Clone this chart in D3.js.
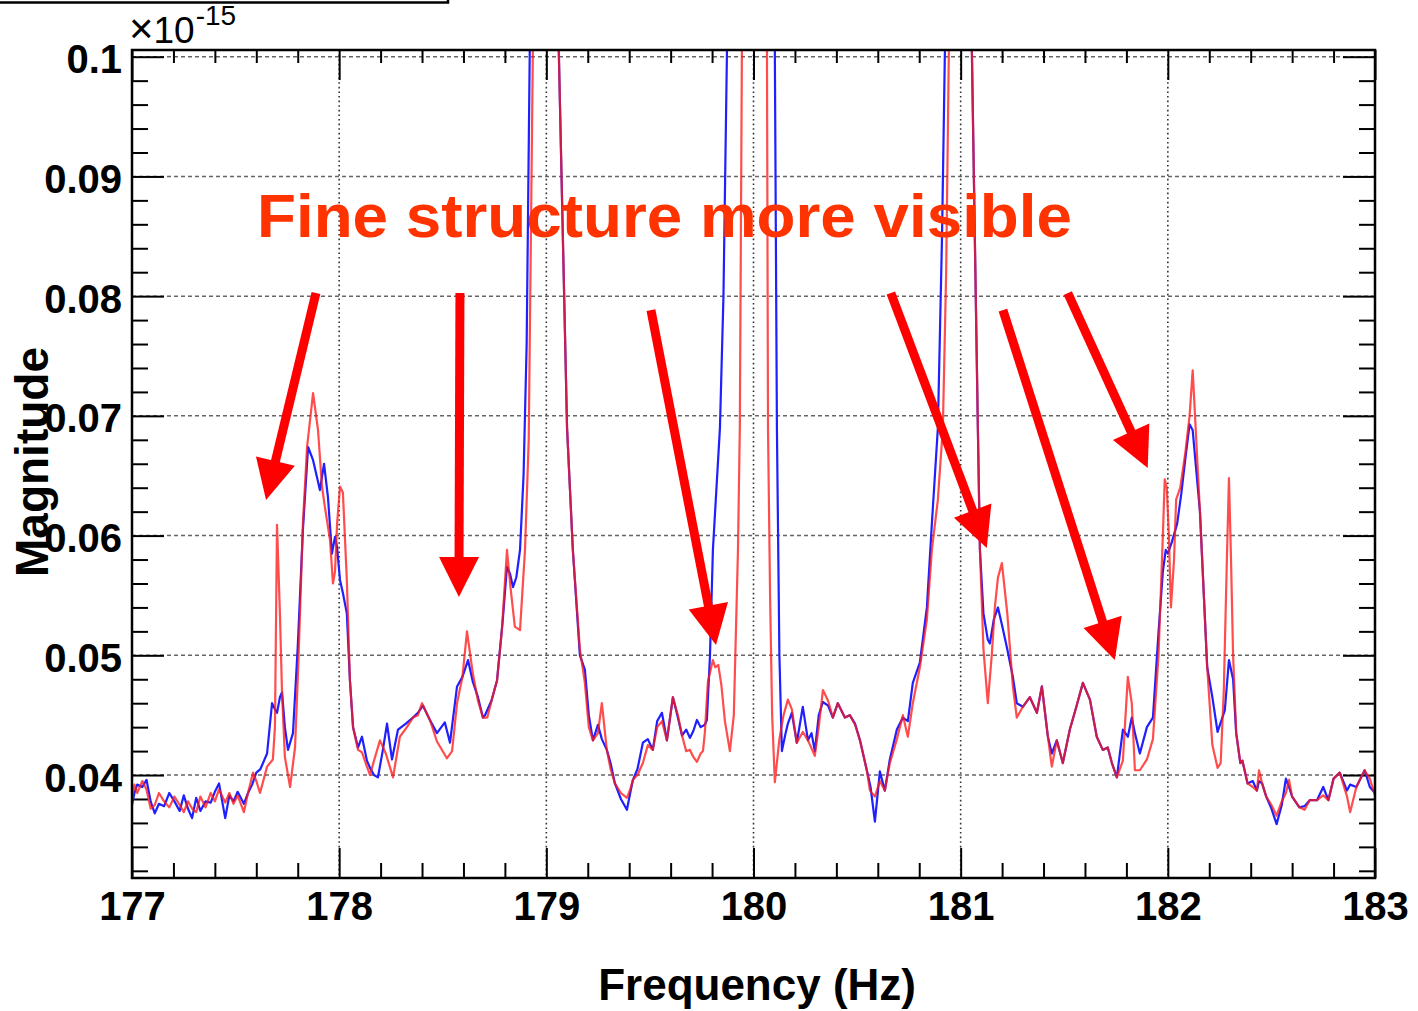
<!DOCTYPE html>
<html><head><meta charset="utf-8">
<script src="https://cdn.jsdelivr.net/npm/d3@7"></script>
<style>
html,body{margin:0;padding:0;background:#fff;}
svg{display:block;}
</style></head><body>
<svg id="chart" width="1418" height="1011"></svg>
<script>
// ---------------- data ----------------
const xTicks = [177, 178, 179, 180, 181, 182, 183];
const xTickLabels = ["177", "178", "179", "180", "181", "182", "183"];
const yTicks = [0.04, 0.05, 0.06, 0.07, 0.08, 0.09, 0.1];
const yTickLabels = ["0.04", "0.05", "0.06", "0.07", "0.08", "0.09", "0.1"];
const xTitle = "Frequency (Hz)";
const yTitle = "Magnitude";
const exponentTimes = "\u00d7";
const exponentBase = "10";
const exponentPower = "-15";
const annotationText = "Fine structure more visible";

// [frequency (Hz), magnitude (x1e-15)]
const blueSeries = [
[177.000,.0375],[177.012,.0385],[177.025,.0392],[177.05,.0390],[177.07,.0396],[177.09,.0378],
[177.11,.0368],[177.13,.0376],[177.155,.0374],[177.18,.0385],[177.205,.0378],[177.23,.0370],
[177.25,.0383],[177.27,.0372],[177.29,.0364],[177.31,.0381],[177.33,.0370],[177.355,.0378],
[177.38,.0377],[177.40,.0386],[177.42,.0393],[177.45,.0364],[177.47,.0383],[177.49,.0378],
[177.51,.0386],[177.54,.0376],[177.56,.0385],[177.58,.0392],[177.60,.0402],[177.62,.0405],
[177.652,.0418],[177.676,.0460],[177.69,.0455],[177.70,.0452],[177.714,.0465],[177.724,.0469],
[177.738,.0440],[177.753,.0421],[177.777,.0435],[177.80,.0507],[177.825,.0605],[177.85,.0674],
[177.874,.0663],[177.898,.0645],[177.907,.0638],[177.927,.0660],[177.946,.0632],[177.965,.0585],
[177.98,.0599],[177.99,.0590],[178.004,.0563],[178.018,.0552],[178.037,.0535],[178.052,.0479],
[178.067,.0440],[178.091,.0423],[178.11,.0432],[178.134,.0412],[178.149,.0406],[178.168,.0400],
[178.187,.0398],[178.21,.0420],[178.231,.0443],[178.255,.0413],[178.284,.0438],[178.322,.0443],
[178.356,.0448],[178.38,.0452],[178.404,.0458],[178.438,.0446],[178.472,.0435],[178.51,.0444],
[178.535,.0427],[178.569,.0474],[178.595,.0482],[178.622,.0496],[178.645,.0478],[178.67,.0465],
[178.694,.0448],[178.704,.0450],[178.735,.0462],[178.762,.0479],[178.79,.0530],[178.81,.0574],
[178.825,.0568],[178.839,.0557],[178.855,.0565],[178.873,.0588],[178.89,.0650],[178.905,.0760],
[178.92,.1006],[178.94,.1500],[179.00,.3000],[179.04,.1500],[179.06,.1006],[179.10,.0690],
[179.128,.0588],[179.162,.0500],[179.186,.0488],[179.205,.0450],[179.225,.0429],[179.249,.0442],
[179.268,.0430],[179.292,.0421],[179.31,.0410],[179.331,.0393],[179.36,.0380],[179.389,.0371],
[179.405,.0385],[179.418,.0396],[179.44,.0405],[179.466,.0427],[179.49,.0430],[179.514,.0421],
[179.535,.0445],[179.558,.0452],[179.582,.0429],[179.611,.0465],[179.635,.0448],[179.655,.0433],
[179.675,.0438],[179.693,.0431],[179.71,.0437],[179.727,.0446],[179.745,.0440],[179.765,.0442],
[179.775,.0446],[179.79,.0500],[179.804,.0588],[179.838,.0690],[179.855,.0800],[179.872,.1006],
[179.89,.1500],[180.00,.3000],[180.09,.1500],[180.103,.1006],[180.113,.0690],[180.125,.0500],
[180.137,.0420],[180.155,.0435],[180.166,.0443],[180.185,.0452],[180.209,.0427],[180.238,.0457],
[180.263,.0429],[180.28,.0435],[180.296,.0420],[180.315,.0450],[180.335,.0461],[180.36,.0458],
[180.383,.0448],[180.407,.0460],[180.441,.0448],[180.465,.0450],[180.49,.0443],[180.514,.0429],
[180.547,.0404],[180.565,.0390],[180.586,.0361],[180.61,.0403],[180.634,.0387],[180.658,.0413],
[180.692,.0438],[180.721,.0448],[180.745,.0445],[180.769,.0477],[180.803,.0494],[180.837,.0540],
[180.861,.0610],[180.89,.0690],[180.91,.0850],[180.924,.1006],[180.94,.1500],[181.00,.3000],
[181.04,.1500],[181.054,.1006],[181.083,.0690],[181.093,.0588],[181.11,.0535],[181.131,.0513],
[181.141,.0510],[181.16,.0530],[181.18,.0540],[181.20,.0525],[181.225,.0505],[181.252,.0482],
[181.271,.0460],[181.30,.0457],[181.334,.0465],[181.368,.0452],[181.392,.0474],[181.421,.0432],
[181.44,.0418],[181.464,.0429],[181.493,.0410],[181.527,.0438],[181.555,.0455],[181.59,.0477],
[181.624,.0463],[181.657,.0432],[181.686,.0421],[181.71,.0423],[181.73,.0410],[181.754,.0398],
[181.783,.0438],[181.807,.0432],[181.826,.0448],[181.841,.0435],[181.865,.0418],[181.899,.0440],
[181.928,.0448],[181.955,.0519],[181.976,.0570],[181.99,.0588],[182.00,.0585],[182.02,.0595],
[182.045,.0610],[182.065,.0635],[182.085,.0665],[182.105,.0693],[182.12,.0688],[182.155,.0620],
[182.19,.0490],[182.215,.0465],[182.24,.0436],[182.275,.0454],[182.295,.0496],[182.315,.0480],
[182.33,.0435],[182.35,.0410],[182.36,.0412],[182.385,.0393],[182.41,.0395],[182.43,.0387],
[182.44,.0395],[182.455,.0393],[182.475,.0382],[182.50,.0372],[182.525,.0359],[182.55,.0375],
[182.57,.0397],[182.585,.0390],[182.60,.0382],[182.635,.0373],[182.66,.0374],[182.685,.0379],
[182.72,.0379],[182.75,.0390],[182.775,.0379],[182.80,.0397],[182.83,.0402],[182.865,.0387],
[182.88,.0392],[182.91,.0390],[182.95,.0404],[182.975,.0390],[183.00,.0385]
];

const redSeries = [
[177.000,.0380],[177.012,.0392],[177.025,.0385],[177.05,.0395],[177.07,.0388],[177.09,.0372],
[177.11,.0375],[177.13,.0385],[177.155,.0378],[177.18,.0373],[177.205,.0382],[177.23,.0375],
[177.25,.0369],[177.27,.0378],[177.29,.0372],[177.31,.0369],[177.33,.0382],[177.355,.0373],
[177.38,.0385],[177.40,.0378],[177.42,.0388],[177.45,.0377],[177.47,.0385],[177.49,.0376],
[177.51,.0383],[177.54,.0369],[177.56,.0385],[177.584,.0402],[177.60,.0395],[177.618,.0385],
[177.652,.0407],[177.68,.0413],[177.69,.0440],[177.70,.0609],[177.714,.0535],[177.724,.0470],
[177.738,.0415],[177.763,.0390],[177.787,.0423],[177.80,.0480],[177.811,.0535],[177.825,.0610],
[177.845,.0674],[177.874,.0719],[177.898,.0688],[177.917,.0641],[177.931,.0624],[177.956,.0596],
[177.97,.0560],[177.98,.0570],[177.99,.0610],[178.004,.0641],[178.018,.0636],[178.037,.0563],
[178.052,.0479],[178.067,.0440],[178.091,.0421],[178.11,.0419],[178.134,.0407],[178.149,.0400],
[178.168,.0412],[178.197,.0429],[178.225,.0418],[178.26,.0398],[178.293,.0432],[178.327,.0440],
[178.356,.0448],[178.38,.0450],[178.40,.0460],[178.438,.0446],[178.472,.0428],[178.52,.0414],
[178.545,.0420],[178.569,.0460],[178.595,.0482],[178.617,.0520],[178.645,.0485],[178.67,.0462],
[178.694,.0448],[178.715,.0448],[178.74,.0465],[178.762,.0479],[178.785,.0520],[178.81,.0588],
[178.825,.0560],[178.848,.0524],[178.873,.0521],[178.897,.0588],[178.915,.0680],[178.935,.1006],
[178.96,.1500],[179.00,.3000],[179.04,.1500],[179.06,.1006],[179.10,.0690],[179.128,.0588],
[179.162,.0505],[179.186,.0477],[179.205,.0440],[179.225,.0429],[179.249,.0435],[179.268,.0460],
[179.292,.0421],[179.31,.0405],[179.331,.0393],[179.36,.0385],[179.389,.0381],[179.405,.0388],
[179.418,.0396],[179.44,.0400],[179.466,.0410],[179.49,.0425],[179.514,.0421],[179.535,.0440],
[179.558,.0445],[179.582,.0429],[179.611,.0465],[179.635,.0450],[179.655,.0433],[179.675,.0420],
[179.693,.0421],[179.71,.0415],[179.727,.0411],[179.745,.0418],[179.756,.0420],[179.765,.0435],
[179.78,.0478],[179.804,.0496],[179.815,.0490],[179.83,.0492],[179.845,.0475],[179.862,.0445],
[179.886,.0420],[179.905,.0450],[179.925,.0588],[179.934,.0690],[179.944,.1006],[179.96,.1500],
[180.00,.3000],[180.05,.1500],[180.065,.1006],[180.07,.0690],[180.08,.0550],[180.09,.0450],
[180.103,.0394],[180.125,.0430],[180.145,.0450],[180.166,.0463],[180.185,.0455],[180.209,.0427],
[180.238,.0436],[180.263,.0429],[180.296,.0416],[180.315,.0440],[180.335,.0471],[180.36,.0462],
[180.383,.0448],[180.407,.0460],[180.441,.0448],[180.465,.0450],[180.49,.0442],[180.514,.0429],
[180.547,.0404],[180.562,.0387],[180.586,.0382],[180.61,.0395],[180.634,.0387],[180.658,.0410],
[180.692,.0430],[180.721,.0450],[180.745,.0432],[180.769,.0460],[180.803,.0490],[180.837,.0530],
[180.861,.0588],[180.89,.0630],[180.914,.0690],[180.93,.0820],[180.943,.1006],[180.96,.1500],
[181.00,.3000],[181.04,.1500],[181.054,.1006],[181.083,.0690],[181.093,.0588],[181.11,.0505],
[181.131,.0460],[181.15,.0500],[181.165,.0540],[181.18,.0565],[181.199,.0577],[181.225,.0535],
[181.252,.0474],[181.271,.0448],[181.30,.0457],[181.334,.0465],[181.368,.0452],[181.392,.0474],
[181.421,.0432],[181.44,.0407],[181.464,.0429],[181.493,.0410],[181.527,.0438],[181.555,.0455],
[181.59,.0477],[181.624,.0463],[181.657,.0432],[181.686,.0421],[181.71,.0423],[181.73,.0410],
[181.754,.0398],[181.783,.0412],[181.807,.0482],[181.826,.0460],[181.841,.0404],[181.865,.0404],
[181.899,.0413],[181.928,.0430],[181.955,.0500],[181.976,.0600],[181.985,.0647],[181.995,.0640],
[182.005,.0600],[182.015,.0540],[182.03,.0580],[182.04,.0630],[182.06,.0640],[182.085,.0670],
[182.105,.0700],[182.12,.0738],[182.155,.0620],[182.19,.0490],[182.215,.0425],[182.24,.0406],
[182.255,.0410],[182.27,.0470],[182.285,.0580],[182.295,.0648],[182.305,.0580],[182.315,.0500],
[182.33,.0435],[182.35,.0410],[182.36,.0412],[182.385,.0393],[182.41,.0390],[182.43,.0387],
[182.44,.0404],[182.455,.0393],[182.475,.0382],[182.50,.0375],[182.525,.0366],[182.55,.0378],
[182.57,.0385],[182.585,.0396],[182.60,.0382],[182.635,.0373],[182.66,.0371],[182.685,.0379],
[182.72,.0379],[182.75,.0383],[182.775,.0379],[182.80,.0397],[182.83,.0402],[182.865,.0382],
[182.88,.0369],[182.91,.0390],[182.95,.0404],[182.975,.0397],[183.00,.0383]
];

// annotation arrows: [startFreq, startMag, tipFreq, tipMag]
const arrows = [
[177.888, 0.08026, 177.647, 0.06297],
[178.583, 0.08026, 178.578, 0.05487],
[179.505, 0.07884, 179.819, 0.05086],
[180.663, 0.08026, 181.126, 0.05896],
[181.204, 0.07884, 181.744, 0.04961],
[181.517, 0.08026, 181.903, 0.06564]
];

// ---------------- drawing ----------------
const FONT = "'Liberation Sans', Arial, Helvetica, sans-serif";
const L = 132, R = 1375, T = 50, B = 878;
const svg = d3.select("#chart");
const x = d3.scaleLinear().domain([177, 183]).range([L, R]);
const y = d3.scaleLinear().domain([0.0314, 0.10056]).range([B, T]);

// legend box remnant at top-left
svg.append("rect").attr("x", -10).attr("y", -30).attr("width", 458).attr("height", 32.5)
  .attr("fill", "#fff").attr("stroke", "#000").attr("stroke-width", 2.5);

// grid
const grid = svg.append("g");
grid.selectAll("line.h").data(yTicks).join("line")
  .attr("x1", L).attr("x2", R).attr("y1", d => y(d)).attr("y2", d => y(d))
  .attr("stroke", "#666").attr("stroke-width", 1.5).attr("stroke-dasharray", "4,3");
grid.selectAll("line.v").data(xTicks.slice(1, -1)).join("line")
  .attr("x1", d => x(d)).attr("x2", d => x(d)).attr("y1", T).attr("y2", B)
  .attr("stroke", "#333").attr("stroke-width", 1.6).attr("stroke-dasharray", "1.6,3");

// minor tick values
const xMinor = d3.range(177, 183.001, 0.2).filter(v => Math.abs(v - Math.round(v)) > 1e-6);
const yMinor = d3.range(0.032, 0.1001, 0.002).filter(v => Math.abs(v * 100 - Math.round(v * 100)) > 1e-6);

function styleAxis(g) {
  g.select(".domain").remove();
  g.selectAll(".tick line").attr("stroke", "#000").attr("stroke-width", 2);
}
// bottom
svg.append("g").attr("transform", `translate(0,${B})`)
  .call(d3.axisBottom(x).tickValues(xMinor).tickSize(-15).tickFormat("")).call(styleAxis);
const bAx = svg.append("g").attr("transform", `translate(0,${B})`)
  .call(d3.axisBottom(x).tickValues(xTicks).tickSize(-30).tickPadding(14)
    .tickFormat((d, i) => xTickLabels[i])).call(styleAxis);
bAx.selectAll("text").attr("font-family", FONT).attr("font-weight", "bold")
  .attr("font-size", 40).attr("fill", "#000").attr("y", 42).attr("dy", 0);
// top
svg.append("g").attr("transform", `translate(0,${T})`)
  .call(d3.axisTop(x).tickValues(xMinor).tickSize(-13).tickFormat("")).call(styleAxis);
svg.append("g").attr("transform", `translate(0,${T})`)
  .call(d3.axisTop(x).tickValues(xTicks).tickSize(-30).tickFormat("")).call(styleAxis);
// left
svg.append("g").attr("transform", `translate(${L},0)`)
  .call(d3.axisLeft(y).tickValues(yMinor).tickSize(-16).tickFormat("")).call(styleAxis);
const lAx = svg.append("g").attr("transform", `translate(${L},0)`)
  .call(d3.axisLeft(y).tickValues(yTicks).tickSize(-32).tickPadding(10)
    .tickFormat((d, i) => yTickLabels[i])).call(styleAxis);
lAx.selectAll("text").attr("font-family", FONT).attr("font-weight", "bold")
  .attr("font-size", 40).attr("fill", "#000").attr("dy", 16);
// right
svg.append("g").attr("transform", `translate(${R},0)`)
  .call(d3.axisRight(y).tickValues(yMinor).tickSize(-16).tickFormat("")).call(styleAxis);
svg.append("g").attr("transform", `translate(${R},0)`)
  .call(d3.axisRight(y).tickValues(yTicks).tickSize(-32).tickFormat("")).call(styleAxis);

// data lines
svg.append("clipPath").attr("id", "plotClip").append("rect")
  .attr("x", L).attr("y", T).attr("width", R - L).attr("height", B - T);
const line = d3.line().x(d => x(d[0])).y(d => y(d[1]));
const lines = svg.append("g").attr("clip-path", "url(#plotClip)");
lines.append("path").datum(blueSeries).attr("d", line)
  .attr("fill", "none").attr("stroke", "#1f1fff").attr("stroke-width", 2.2).attr("stroke-linejoin", "round");
lines.append("path").datum(redSeries).attr("d", line)
  .attr("fill", "none").attr("stroke", "#ff1a1a").attr("stroke-opacity", 0.78)
  .attr("stroke-width", 2.2).attr("stroke-linejoin", "round");

// frame
svg.append("rect").attr("x", L).attr("y", T).attr("width", R - L).attr("height", B - T)
  .attr("fill", "none").attr("stroke", "#000").attr("stroke-width", 2.5);

// exponent label
const ex = svg.append("text").attr("x", 129).attr("y", 43)
  .attr("font-family", FONT).attr("fill", "#000");
ex.append("tspan").attr("font-size", 42).text(exponentTimes);
ex.append("tspan").attr("font-size", 37).text(exponentBase);
ex.append("tspan").attr("font-size", 28).attr("dy", -18).attr("dx", 1).text(exponentPower);

// axis titles
svg.append("text").attr("x", 916).attr("y", 1000).attr("text-anchor", "end")
  .attr("font-family", FONT).attr("font-weight", "bold").attr("font-size", 44).attr("fill", "#000")
  .text(xTitle);
svg.append("text").attr("transform", "translate(48,347) rotate(-90)").attr("text-anchor", "end")
  .attr("font-family", FONT).attr("font-weight", "bold").attr("font-size", 46).attr("fill", "#000")
  .text(yTitle);

// annotation
svg.append("text").attr("x", 257).attr("y", 237)
  .attr("font-family", FONT).attr("font-weight", "bold").attr("font-size", 62)
  .attr("fill", "#ff3300").attr("textLength", 815).attr("lengthAdjust", "spacingAndGlyphs")
  .text(annotationText);

const ag = svg.append("g");
arrows.forEach(a => {
  const x1 = x(a[0]), y1 = y(a[1]), x2 = x(a[2]), y2 = y(a[3]);
  const dx = x2 - x1, dy = y2 - y1, len = Math.hypot(dx, dy);
  const ux = dx / len, uy = dy / len, nx = -uy, ny = ux;
  const HL = 40, HW = 20;
  const bx = x2 - ux * HL, by = y2 - uy * HL;
  ag.append("line").attr("x1", x1).attr("y1", y1).attr("x2", bx + ux * 2).attr("y2", by + uy * 2)
    .attr("stroke", "#ff0000").attr("stroke-width", 9);
  ag.append("polygon")
    .attr("points", [[x2, y2], [bx + nx * HW, by + ny * HW], [bx - nx * HW, by - ny * HW]].map(p => p.join(",")).join(" "))
    .attr("fill", "#ff0000");
});
</script>
</body></html>
